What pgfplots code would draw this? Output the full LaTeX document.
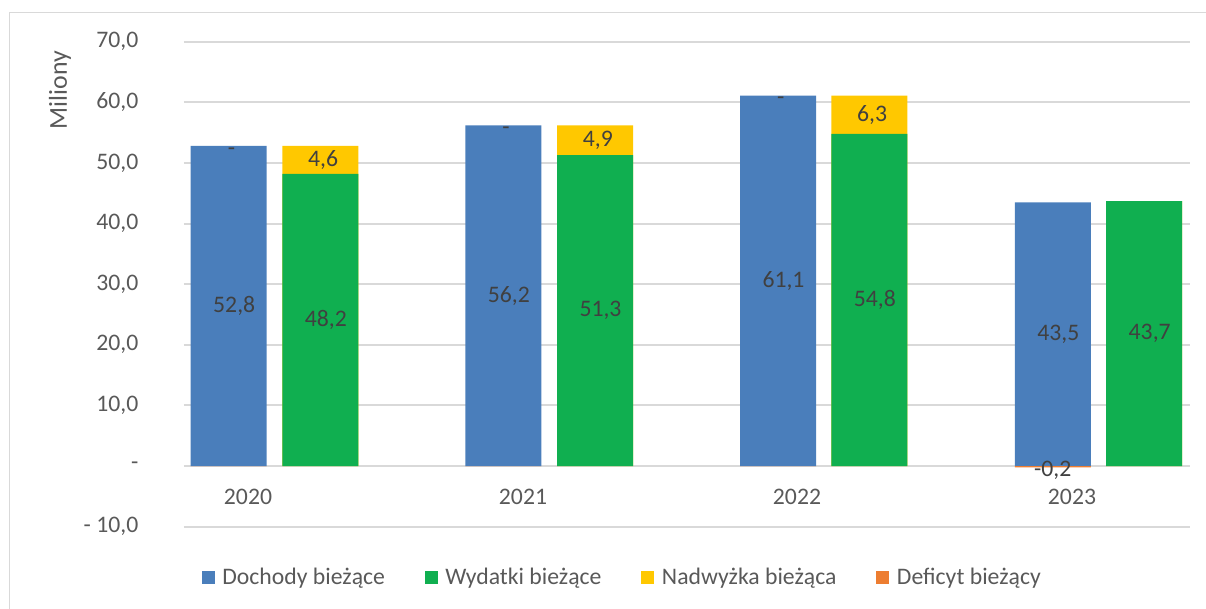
\documentclass[border=0pt]{standalone}
\usepackage{pgfplots}
\usepackage{pgfplotstable}
\usepackage{fontspec}
\setmainfont{Carlito}
\pgfplotsset{compat=1.18}
\definecolor{cB}{HTML}{4A7EBB}
\definecolor{cG}{HTML}{10AF50}
\definecolor{cY}{HTML}{FFC800}
\definecolor{cO}{HTML}{ED7D31}
\definecolor{gridc}{HTML}{D9D9D9}
\definecolor{tickc}{HTML}{595959}
\definecolor{labc}{HTML}{404040}
\newcommand\lbl{\fontsize{11.85}{14}\selectfont}
% xb, xg: positions of the two bars of each year
\pgfplotstableread{
year xb xg doch wyd nadw def
2020 228.7 320.3 52.8 48.2 4.6 0
2021 503.3 595.0 56.2 51.3 4.9 0
2022 778.0 869.3 61.1 54.8 6.3 0
2023 1052.8 1144.2 43.5 43.7 0 -0.2
}\data
\begin{document}
\begin{tikzpicture}
\useasboundingbox (0,0) rectangle (603pt,304.5pt);
\draw[gridc, line width=0.7pt] (4.75pt,0pt) -- (4.75pt,298.35pt) -- (603pt,298.35pt);
\begin{axis}[
  at={(92pt,41.15pt)}, anchor=south west,
  scale only axis, width=503pt, height=242.5pt,
  xmin=184, xmax=1190, ymin=-10, ymax=70,
  axis line style={draw=none}, major tick length=0pt,
  ytick={-10,0,10,20,30,40,50,60,70},
  yticklabels={{-~10,0},{-\hspace{5.5pt}},{10,0},{20,0},{30,0},{40,0},{50,0},{60,0},{70,0}},
  xtick={248,523,797,1072},
  xticklabels={2020,2021,2022,2023},
  ymajorgrids, grid style={line width=1pt, gridc},
  ticklabel style={font=\lbl, text=tickc},
  yticklabel style={anchor=east, inner sep=0pt, xshift=-22.65pt},
  xticklabel style={anchor=center, inner sep=0pt, yshift=15.1pt},
  clip=false,
  legend columns=4,
  legend style={at={(0.0174,-0.1058)}, anchor=west, draw=none, fill=none,
    font=\lbl, text=tickc, inner sep=0pt, nodes={inner sep=0pt},
    /tikz/every odd column/.append style={column sep=3.75pt},
    /tikz/every even column/.append style={column sep=20pt}},
  legend image code/.code={\fill[#1, draw=none] (0pt,-3.2pt) rectangle (6.5pt,3.3pt);},
  /pgf/number format/.cd, use comma, fixed, fixed zerofill, precision=1, assume math mode=true,
]
% bars
\addplot[ybar, bar width=76, bar shift=0pt, fill=cY, draw=none, forget plot]
  table[x=xg, y expr=\thisrow{wyd}+\thisrow{nadw}] {\data};
\addplot[ybar, bar width=76, bar shift=0pt, fill=cG, draw=none, forget plot]
  table[x=xg, y=wyd] {\data};
\addplot[ybar, bar width=76, bar shift=0pt, fill=cB, draw=none, forget plot]
  table[x=xb, y=doch] {\data};
\addplot[ybar, bar width=76, bar shift=0pt, fill=cO, draw=none, forget plot]
  table[x=xb, y=def] {\data};
% data labels
\addplot[draw=none, forget plot, point meta=explicit,
  nodes near coords={\pgfmathprintnumber{\pgfplotspointmeta}},
  nodes near coords style={anchor=center, font=\lbl, text=labc, xshift=2.75pt}]
  table[x=xb, y expr=\thisrow{doch}/2, meta=doch] {\data};
\addplot[draw=none, forget plot, point meta=explicit,
  nodes near coords={\pgfmathprintnumber{\pgfplotspointmeta}},
  nodes near coords style={anchor=center, font=\lbl, text=labc, xshift=2.75pt}]
  table[x=xg, y expr=\thisrow{wyd}/2, meta=wyd] {\data};
\addplot[draw=none, forget plot, point meta=explicit,
  skip coords between index={3}{4},
  nodes near coords={\pgfmathprintnumber{\pgfplotspointmeta}},
  nodes near coords style={anchor=center, font=\lbl, text=labc, xshift=1.4pt}]
  table[x=xg, y expr=\thisrow{wyd}+\thisrow{nadw}/2, meta=nadw] {\data};
\addplot[draw=none, forget plot, point meta=explicit,
  skip coords between index={3}{4},
  nodes near coords={-},
  nodes near coords style={anchor=north, inner sep=0pt, font=\lbl, text=labc, xshift=1.35pt, yshift=-0.6pt}]
  table[x=xb, y=doch, meta=def] {\data};
\addplot[draw=none, forget plot, point meta=explicit,
  skip coords between index={0}{3},
  nodes near coords={\pgfmathprintnumber{\pgfplotspointmeta}},
  nodes near coords style={anchor=center, font=\lbl, text=labc, yshift=-1.6pt}]
  table[x=xb, y=def, meta=def] {\data};
% legend
\addlegendimage{fill=cB}\addlegendentry{Dochody bieżące}
\addlegendimage{fill=cG}\addlegendentry{Wydatki bieżące}
\addlegendimage{fill=cY}\addlegendentry{Nadwyżka bieżąca}
\addlegendimage{fill=cO}\addlegendentry{Deficyt bieżący}
\end{axis}
\node[rotate=90, font=\fontsize{12.9}{15}\selectfont, text=tickc] at (30pt,259.5pt) {Miliony};
\end{tikzpicture}
\end{document}
